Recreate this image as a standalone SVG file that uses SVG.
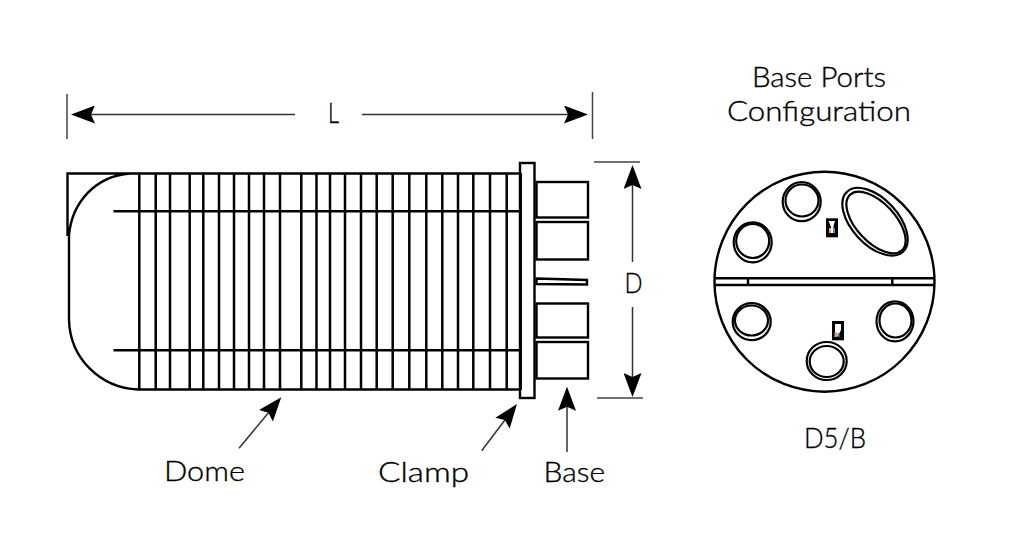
<svg xmlns="http://www.w3.org/2000/svg" width="1024" height="545" viewBox="0 0 1024 545">
<defs>
<style>
.t{font-family:"Lato","Open Sans",sans-serif;font-size:28px;font-weight:300;fill:#000;stroke:#000;stroke-width:.35}
.k{fill:none;stroke:#000;stroke-width:2.4}
.r{fill:none;stroke:#000;stroke-width:2.5}
.h{fill:none;stroke:#000;stroke-width:2.2}
.d{fill:none;stroke:#444;stroke-width:1.5}
.a{fill:none;stroke:#333;stroke-width:1.5;marker-end:url(#ah)}
</style>
<marker id="ah" viewBox="0 0 24 18" refX="4" refY="9" markerWidth="24" markerHeight="18" markerUnits="userSpaceOnUse" orient="auto"><path d="M0,0L24,9L0,18L4,9Z" fill="#000"/></marker>
</defs>
<rect width="1024" height="545" fill="#fff"/>
<g id="connectors">
<path class="d" d="M67 94V139M592.500 92V139M594 162H640M597 398H643"/>
<path class="a" d="M295 114.500H91"/>
<path class="a" d="M362 114.500H568"/>
<path class="a" d="M632.500 262V185"/>
<path class="a" d="M632.500 307V377"/>
<path class="a" d="M239 448.300L268.500 412.700"/>
<path class="a" d="M481.700 450.700L504.900 420"/>
<path class="a" d="M567 452V406.700"/>
</g>
<g id="dome">
<path class="k" d="M67.500 236V173.500H521M130 173.500C95 176 72 203 69 235V320C70 358 100 388 138 389.500H521"/>
<path class="k" d="M113.500 211.300H520M113.500 350.300H520"/>
<path class="r" d="M139.300 173V390M155.700 173V390M170 173V390M189.700 173V390M203.300 173V390M219 173V390M234 173V390M249 173V390M264 173V390M280 173V390M301.300 173V390M316.500 173V390M330 173V390M345 173V390M361 173V390M376.700 173V390M392.700 173V390M409.300 173V390M426.300 173V390M442.300 173V390M458 173V390M473.300 173V390M490 173V390M506.700 173V390M520.700 173V390"/>
</g>
<g id="clamp"><rect class="k" x="520" y="163" width="14.500" height="235" fill="#fff"/></g>
<g id="base">
<rect class="k" x="536.500" y="182" width="51.500" height="35.500"/>
<rect class="k" x="536.500" y="222" width="51.500" height="37.500"/>
<path class="k" d="M536.500 278.500L587 280V284.500L536.500 284Z"/>
<rect class="k" x="536.500" y="303.500" width="51.500" height="34"/>
<rect class="k" x="536.500" y="342" width="51.500" height="36.500"/>
</g>
<g id="ports">
<circle class="k" cx="824.500" cy="281.700" r="110"/>
<path class="k" d="M714.500 278.300H934.500M714.500 285H934.500"/>
<path class="k" d="M748 278.300V285M892.300 278.300V285"/>
<ellipse class="h" cx="801.700" cy="201.700" rx="19" ry="19.500"/><ellipse class="h" cx="802" cy="200.500" rx="16.500" ry="16"/>
<ellipse class="h" cx="752.700" cy="242.300" rx="19" ry="20"/><ellipse class="h" cx="752.700" cy="241" rx="16.500" ry="17"/>
<ellipse class="h" cx="751.700" cy="321.700" rx="19" ry="18.500"/><ellipse class="h" cx="751.500" cy="320.500" rx="16.500" ry="15"/>
<ellipse class="h" cx="895" cy="321.300" rx="18.500" ry="20"/><ellipse class="h" cx="895.500" cy="320.500" rx="16" ry="17"/>
<ellipse class="h" cx="826.700" cy="361" rx="20" ry="19"/><ellipse class="h" cx="826.700" cy="361.500" rx="17" ry="15.500"/>
<ellipse class="h" cx="875" cy="221.700" rx="41" ry="23" transform="rotate(47 875 221.700)"/>
<ellipse class="h" cx="876" cy="222.500" rx="38" ry="19.500" transform="rotate(47 876 222.500)"/>
<g id="mark-a"><rect x="826" y="218.300" width="12" height="19" fill="#000"/><path d="M828.500 221H835L833.500 226V233H831V227Z" fill="#fff"/><path d="M829 228H831V233H829Z" fill="#e8a060"/><path d="M833 228H835V233H833Z" fill="#4a90d0"/></g>
<g id="mark-b"><rect x="832" y="321" width="12" height="19.300" fill="#000"/><path d="M835 324H841V330L838 336H835Z" fill="#fff"/><path d="M834.500 332H837V337H834.500Z" fill="#e8a060"/><path d="M837.500 333H839.500V337H837.500Z" fill="#4a90d0"/></g>
</g>
<g id="labels">
<text class="t" x="328" y="122.700" textLength="11" lengthAdjust="spacingAndGlyphs">L</text>
<text class="t" x="624.500" y="292.700" textLength="18" lengthAdjust="spacingAndGlyphs">D</text>
<text class="t" x="164" y="481" textLength="81" lengthAdjust="spacingAndGlyphs">Dome</text>
<text class="t" x="378" y="481.700" textLength="91" lengthAdjust="spacingAndGlyphs">Clamp</text>
<text class="t" x="543.500" y="482" textLength="61.500" lengthAdjust="spacingAndGlyphs">Base</text>
<text class="t" x="752" y="87" textLength="134" lengthAdjust="spacingAndGlyphs">Base Ports</text>
<text class="t" x="727" y="121" textLength="184" lengthAdjust="spacingAndGlyphs">Configuration</text>
<text class="t" x="804" y="448" textLength="62" lengthAdjust="spacingAndGlyphs">D5/B</text>
</g>
</svg>
